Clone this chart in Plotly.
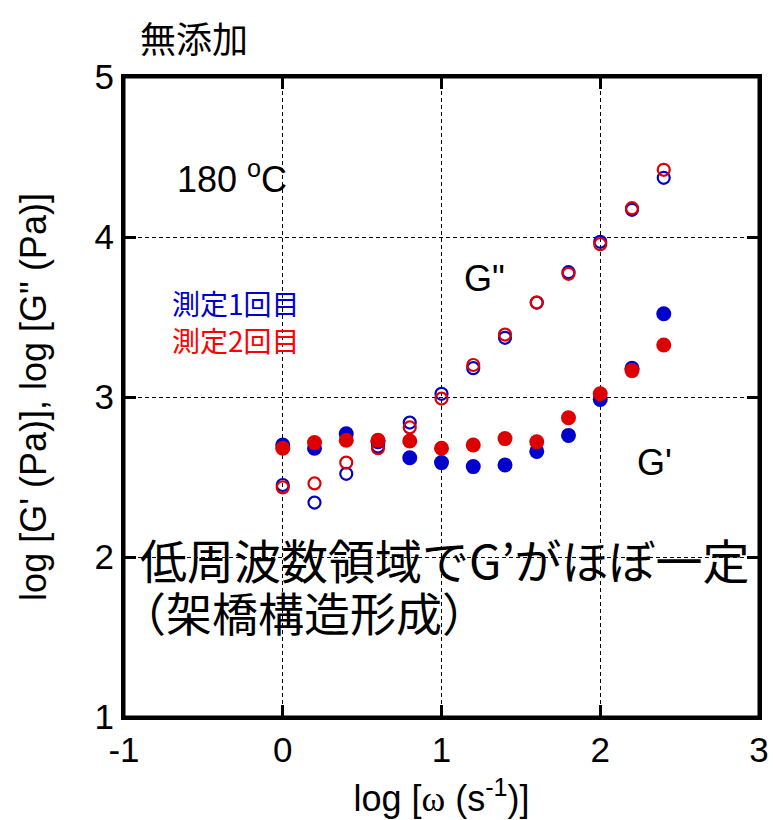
import plotly.graph_objects as go

log_omega = [0, 0.2, 0.4, 0.6, 0.8, 1.0, 1.2, 1.4, 1.6, 1.8, 2.0, 2.2, 2.4]

run1_Gp = [2.70, 2.68, 2.77, 2.72, 2.62, 2.59, 2.565, 2.575, 2.66, 2.76, 2.985, 3.18, 3.52]
run1_Gpp = [2.45, 2.34, 2.52, 2.69, 2.84, 3.02, 3.18, 3.37, 3.59, 3.78, 3.97, 4.17, 4.37]
run2_Gp = [2.68, 2.715, 2.73, 2.73, 2.725, 2.68, 2.70, 2.74, 2.72, 2.87, 3.02, 3.165, 3.325]
run2_Gpp = [2.435, 2.46, 2.59, 2.68, 2.81, 2.99, 3.20, 3.39, 3.59, 3.77, 3.955, 4.18, 4.42]

x_ticks = [-1, 0, 1, 2, 3]
y_ticks = [1, 2, 3, 4, 5]

BLUE = "#0000CC"
RED = "#DD0000"

fig = go.Figure()

def add(y, color, filled):
    if filled:
        m = dict(symbol="circle", size=15, color=color, line=dict(width=0))
    else:
        m = dict(symbol="circle-open", size=12, color=color, line=dict(width=2.2, color=color))
    fig.add_trace(go.Scatter(x=log_omega, y=y, mode="markers", marker=m,
                             showlegend=False, hoverinfo="skip"))

add(run1_Gpp, BLUE, False)
add(run1_Gp, BLUE, True)
add(run2_Gpp, RED, False)
add(run2_Gp, RED, True)

LAT = "Liberation Sans, Arial, sans-serif"
JP = "Noto Sans CJK JP, sans-serif"

axis_common = dict(
    showline=True, linewidth=3, linecolor="black", mirror="ticks",
    ticks="inside", ticklen=12, tickwidth=3, tickcolor="black",
    showgrid=True, gridcolor="black", gridwidth=1, griddash="4px,3px",
    zeroline=False, automargin=False, ticklabeloverflow="allow",
    tickfont=dict(family=LAT, size=35, color="black"),
)

fig.update_xaxes(range=[-1, 3], tickvals=x_ticks, ticktext=[str(v) for v in x_ticks],
                 title=dict(text="log [<span style='font-family:Liberation Serif'>ω</span> (s<sup>-1</sup>)]",
                            font=dict(family=LAT, size=36, color="black"), standoff=18),
                 **axis_common)
fig.update_yaxes(range=[1, 5], tickvals=y_ticks, ticktext=[str(v) for v in y_ticks],
                 title=dict(text="log [G' (Pa)], log [G\" (Pa)]",
                            font=dict(family=LAT, size=36, color="black"), standoff=37),
                 **axis_common)

# frame drawn as a shape too, so that every side shows
fig.add_shape(type="rect", xref="paper", yref="paper", x0=0, x1=1, y0=0, y1=1,
              line=dict(color="black", width=3), layer="above")

annotations = [
    dict(text="無添加", xref="paper", yref="paper", x=0.022, y=1.062, xanchor="left", yanchor="middle",
         font=dict(family=JP, size=36, color="black")),
    dict(text="180 <sup>o</sup>C", x=-0.68, y=4.375, xanchor="left", yanchor="middle",
         font=dict(family=LAT, size=36, color="black")),
    dict(text="G\"", x=1.13, y=3.74, xanchor="left", yanchor="middle",
         font=dict(family=LAT, size=36, color="black")),
    dict(text="G'", x=2.22, y=2.59, xanchor="left", yanchor="middle",
         font=dict(family=LAT, size=36, color="black")),
    dict(text="測定1回目", x=-0.71, y=3.59, xanchor="left", yanchor="middle",
         font=dict(family=JP, size=28, color="#0000CC")),
    dict(text="測定2回目", x=-0.71, y=3.356, xanchor="left", yanchor="middle",
         font=dict(family=JP, size=28, color="#FF0000")),
    dict(text="低周波数領域でG’がほぼ一定", x=-0.91, y=1.99, xanchor="left", yanchor="middle",
         font=dict(family=JP, size=47, color="black")),
    dict(text="（架橋構造形成）", xref="paper", x=-0.01, y=1.665, xanchor="left", yanchor="middle",
         font=dict(family=JP, size=46, color="black")),
]
for a in annotations:
    a.setdefault("xref", "x")
    a.setdefault("yref", "y")
    a["showarrow"] = False
fig.update_layout(annotations=annotations)

fig.update_layout(
    width=773, height=820,
    margin=dict(l=124, r=14, t=77, b=103),
    plot_bgcolor="white", paper_bgcolor="white",
    showlegend=False,
)

fig.write_html(
    "out.html", config={"displayModeBar": False},
    post_script=("document.documentElement.style.margin='0';"
                 "document.documentElement.style.overflow='hidden';"
                 "document.body.style.margin='0';"
                 "document.body.style.overflow='hidden';"),
)
